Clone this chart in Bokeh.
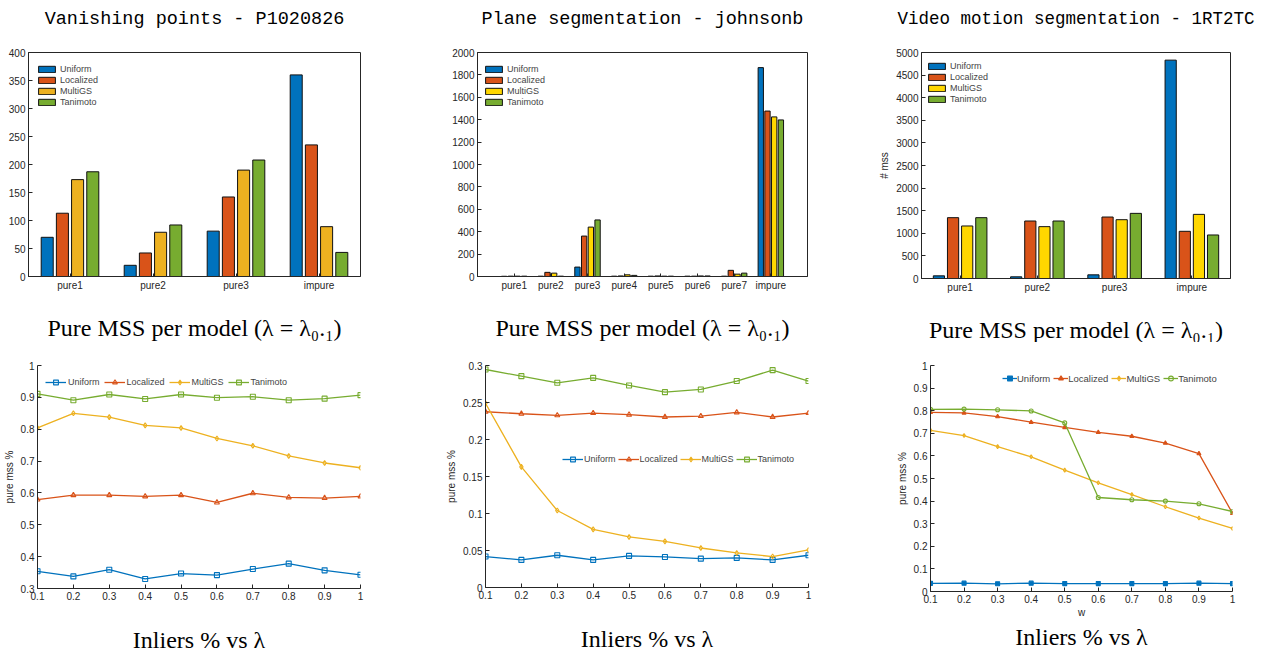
from bokeh.plotting import figure
from bokeh.layouts import row, column
from bokeh.models import (FixedTicker, CustomJSTickFormatter, Legend, LegendItem,
                          LinearAxis, Range1d)
from bokeh.embed import file_html
from bokeh.resources import INLINE

# ---------------- data ----------------
methods = ["Uniform", "Localized", "MultiGS", "Tanimoto"]

vp_groups = ["pure1", "pure2", "pure3", "impure"]
vp_uniform = [70, 20, 81, 360]
vp_localized = [113, 42, 142, 235]
vp_multigs = [173, 79, 190, 89]
vp_tanimoto = [187, 92, 208, 43]

ps_groups = ["pure1", "pure2", "pure3", "pure4", "pure5", "pure6", "pure7", "impure"]
ps_uniform = [2, 3, 84, 3, 3, 3, 3, 1865]
ps_localized = [3, 37, 361, 5, 5, 3, 55, 1477]
ps_multigs = [3, 30, 441, 15, 3, 5, 21, 1425]
ps_tanimoto = [3, 3, 505, 10, 3, 5, 30, 1398]

vm_groups = ["pure1", "pure2", "pure3", "impure"]
vm_uniform = [59, 37, 81, 4831]
vm_localized = [1346, 1272, 1360, 1044]
vm_multigs = [1162, 1147, 1301, 1419]
vm_tanimoto = [1346, 1272, 1441, 963]

lam = [0.1, 0.2, 0.3, 0.4, 0.5, 0.6, 0.7, 0.8, 0.9, 1.0]
lam_labels = ["0.1", "0.2", "0.3", "0.4", "0.5", "0.6", "0.7", "0.8", "0.9", "1"]

vp_l_uniform = [0.354, 0.338, 0.359, 0.330, 0.347, 0.342, 0.361, 0.378, 0.357, 0.343]
vp_l_localized = [0.579, 0.593, 0.593, 0.589, 0.593, 0.570, 0.599, 0.586, 0.584, 0.589]
vp_l_multigs = [0.804, 0.850, 0.838, 0.812, 0.804, 0.771, 0.748, 0.716, 0.694, 0.679]
vp_l_tanimoto = [0.911, 0.891, 0.909, 0.895, 0.909, 0.899, 0.902, 0.891, 0.896, 0.907]

ps_l_uniform = [0.0418, 0.0373, 0.0436, 0.0373, 0.0427, 0.0413, 0.0390, 0.0400, 0.0373, 0.0436]
ps_l_localized = [0.2375, 0.2348, 0.2326, 0.2357, 0.2335, 0.2304, 0.2317, 0.2366, 0.2304, 0.2357]
ps_l_multigs = [0.249, 0.163, 0.104, 0.0786, 0.0683, 0.0624, 0.0534, 0.0467, 0.0418, 0.0507]
ps_l_tanimoto = [0.2946, 0.2856, 0.2766, 0.2833, 0.2730, 0.2640, 0.2676, 0.2790, 0.2937, 0.2790]

vm_l_uniform = [0.036, 0.037, 0.034, 0.037, 0.035, 0.035, 0.035, 0.035, 0.037, 0.035]
vm_l_localized = [0.793, 0.790, 0.774, 0.749, 0.726, 0.704, 0.687, 0.657, 0.610, 0.346]
vm_l_multigs = [0.713, 0.690, 0.641, 0.596, 0.537, 0.481, 0.429, 0.375, 0.325, 0.279]
vm_l_tanimoto = [0.806, 0.807, 0.804, 0.799, 0.746, 0.416, 0.406, 0.400, 0.388, 0.354]

vp_yticks = [0, 50, 100, 150, 200, 250, 300, 350, 400]
ps_yticks = [0, 200, 400, 600, 800, 1000, 1200, 1400, 1600, 1800, 2000]
vm_yticks = [0, 500, 1000, 1500, 2000, 2500, 3000, 3500, 4000, 4500, 5000]
vp_l_yticks = [0.3, 0.4, 0.5, 0.6, 0.7, 0.8, 0.9, 1.0]
vp_l_ylabels = ["0.3", "0.4", "0.5", "0.6", "0.7", "0.8", "0.9", "1"]
ps_l_yticks = [0, 0.05, 0.1, 0.15, 0.2, 0.25, 0.3]
ps_l_ylabels = ["0", "0.05", "0.1", "0.15", "0.2", "0.25", "0.3"]
vm_l_yticks = [0, 0.1, 0.2, 0.3, 0.4, 0.5, 0.6, 0.7, 0.8, 0.9, 1.0]
vm_l_ylabels = ["0", "0.1", "0.2", "0.3", "0.4", "0.5", "0.6", "0.7", "0.8", "0.9", "1"]

titles = ["Vanishing points - P1020826", "Plane segmentation - johnsonb",
          "Video motion segmentation - 1RT2TC"]
bar_caption = "Pure MSS per model (\u03bb = \u03bb\u2080.\u2081)"
line_caption = "Inliers % vs \u03bb"

# ---------------- style ----------------
C_BLUE, C_RED, C_YEL, C_GRN = "#0072BD", "#D95319", "#EDB120", "#77AC30"
C_YEL2 = "#FFD700"
AX = "#262626"
SANS = "Liberation Sans"
SERIF = "Liberation Serif"


def labels_formatter(labels):
    return CustomJSTickFormatter(args=dict(labels=labels), code="return labels[index];")


def style_axis(ax, ticks, labels):
    ax.ticker = FixedTicker(ticks=ticks)
    ax.formatter = labels_formatter(labels)
    ax.axis_line_color = AX
    ax.major_tick_line_color = AX
    ax.major_tick_in = 4
    ax.major_tick_out = 0
    ax.minor_tick_line_color = None
    ax.major_label_text_font = SANS
    ax.major_label_text_font_size = "10px"
    ax.major_label_text_color = AX
    ax.major_label_standoff = 3
    ax.axis_label_text_font = SANS
    ax.axis_label_text_font_size = "10px"
    ax.axis_label_text_font_style = "normal"
    ax.axis_label_text_color = AX
    ax.axis_label_standoff = 3


def text_axis(text, font, size, standoff):
    """An axis without ticks that only carries a label (used for titles/captions)."""
    return LinearAxis(ticker=FixedTicker(ticks=[]), axis_line_color=None,
                      major_tick_line_color=None, minor_tick_line_color=None,
                      major_tick_in=0, major_tick_out=0, major_label_standoff=0,
                      axis_label=text, axis_label_text_font=font,
                      axis_label_text_font_size=size, axis_label_text_font_style="normal",
                      axis_label_text_color="black", axis_label_standoff=standoff)


def set_caption(ax, text, standoff):
    ax.axis_label = text
    ax.axis_label_text_font = SERIF
    ax.axis_label_text_font_size = "24px"
    ax.axis_label_text_font_style = "normal"
    ax.axis_label_text_color = "black"
    ax.axis_label_standoff = standoff


def base_fig(fw, fh, bl, br, bt, bb, xr, yr):
    p = figure(frame_width=fw, frame_height=fh, min_border_left=bl, min_border_right=br,
               min_border_top=bt, min_border_bottom=bb, x_range=xr, y_range=yr,
               output_backend="svg", toolbar_location=None)
    p.grid.visible = False
    p.background_fill_color = "white"
    p.border_fill_color = "white"
    return p


def bar_panel(groups, series, colors, yticks, title, dims, xr, legend_loc, t_standoff,
              t_size, ylabel=None):
    fw, fh, bl, br, bt, bb = dims
    p = base_fig(fw, fh, bl, br, bt, bb, Range1d(*xr), Range1d(yticks[0], yticks[-1]))
    p.outline_line_color = AX
    p.outline_line_width = 1
    xb = p.below[0]
    yl = p.left[0]
    idx = list(range(1, len(groups) + 1))
    pitch = 0.183
    offs = [-1.5 * pitch, -0.5 * pitch, 0.5 * pitch, 1.5 * pitch]
    items = []
    for s, c, o, name in zip(series, colors, offs, methods):
        r = p.vbar(x=[i + o for i in idx], top=s, width=0.145, bottom=0,
                   fill_color=c, line_color="#111111", line_width=1)
        items.append(LegendItem(label=name, renderers=[r]))
    style_axis(xb, idx, groups)
    style_axis(yl, yticks, [str(t) for t in yticks])
    xb.major_tick_in = 3
    if ylabel:
        yl.axis_label = ylabel
    set_caption(xb, bar_caption, 21)
    leg = Legend(items=items, location=legend_loc, orientation="vertical",
                 border_line_color=None, background_fill_color="white",
                 background_fill_alpha=1, label_text_font=SANS, label_text_font_size="9px",
                 glyph_width=21, glyph_height=8, label_height=10, label_standoff=3,
                 spacing=1, padding=3, margin=0)
    p.add_layout(leg)
    p.add_layout(text_axis(title, "Liberation Mono", t_size, t_standoff), "above")
    return p


def line_panel(series, markers, msize, yticks, ylabels, dims, legend_loc, gw, fs, lstand,
               lspace, xlabel=None):
    fw, fh, bl, br, bt, bb = dims
    p = base_fig(fw, fh, bl, br, bt, bb, Range1d(0.1, 1.0), Range1d(yticks[0], yticks[-1]))
    p.outline_line_color = None
    xb = p.below[0]
    yl = p.left[0]
    colors = [C_BLUE, C_RED, C_YEL, C_GRN]
    items = []
    for s, c, (m, filled), name in zip(series, colors, markers, methods):
        ln = p.line(lam, s, line_color=c, line_width=1.3)
        sc = p.scatter(lam, s, marker=m, size=msize, line_color=c, line_width=1.1,
                       fill_color=c if filled else None)
        items.append(LegendItem(label=name, renderers=[ln, sc]))
    style_axis(xb, lam, lam_labels)
    style_axis(yl, yticks, ylabels)
    yl.axis_label = "pure mss %"
    if xlabel:
        xb.axis_label = xlabel
        xb.axis_label_standoff = 1
        p.add_layout(text_axis(line_caption, SERIF, "24px", 3), "below")
    else:
        set_caption(xb, line_caption, 24)
    leg = Legend(items=items, location=legend_loc, orientation="horizontal",
                 border_line_color=None, background_fill_alpha=0,
                 label_text_font=SANS, label_text_font_size=fs,
                 glyph_width=gw, glyph_height=12, label_height=12, label_standoff=lstand,
                 spacing=lspace, padding=2, margin=0)
    p.add_layout(leg)
    return p


b1 = bar_panel(vp_groups, [vp_uniform, vp_localized, vp_multigs, vp_tanimoto],
               [C_BLUE, C_RED, C_YEL, C_GRN], vp_yticks, titles[0],
               (332, 224, 28, 52, 52, 62), (0.5, 4.5), (8, 169), 23, "18.5px")
b2 = bar_panel(ps_groups, [ps_uniform, ps_localized, ps_multigs, ps_tanimoto],
               [C_BLUE, C_RED, C_YEL2, C_GRN], ps_yticks, titles[1],
               (330, 224, 65, 35, 52, 62), (0, 9), (6, 169), 23, "18.5px")
b3 = bar_panel(vm_groups, [vm_uniform, vm_localized, vm_multigs, vm_tanimoto],
               [C_BLUE, C_RED, C_YEL2, C_GRN], vm_yticks, titles[2],
               (309, 226, 79, 28, 49, 63), (0.5, 4.5), (5, 174), 24, "17.5px",
               ylabel="# mss")

open_m = [("square", False), ("triangle", False), ("diamond", False), ("square", False)]
small_m = [("square", True), ("triangle", True), ("diamond", False), ("circle", False)]

l1 = line_panel([vp_l_uniform, vp_l_localized, vp_l_multigs, vp_l_tanimoto], open_m, 5,
                vp_l_yticks, vp_l_ylabels, (323, 223, 28, 61, 21, 62), (8, 200),
                21, "9px", 2, 4)
l2 = line_panel([ps_l_uniform, ps_l_localized, ps_l_multigs, ps_l_tanimoto], open_m, 5,
                ps_l_yticks, ps_l_ylabels, (323, 222, 64, 43, 22, 62), (77, 122),
                21, "9px", 1, 2)
l3 = line_panel([vm_l_uniform, vm_l_localized, vm_l_multigs, vm_l_tanimoto], small_m, 4,
                vm_l_yticks, vm_l_ylabels, (302, 226, 79, 35, 18, 62), (72, 207),
                15, "9.5px", 0, 3, xlabel="w")

layout = column(row(b1, b2, b3), row(l1, l2, l3))
open("out.html", "w").write(file_html(layout, INLINE))
